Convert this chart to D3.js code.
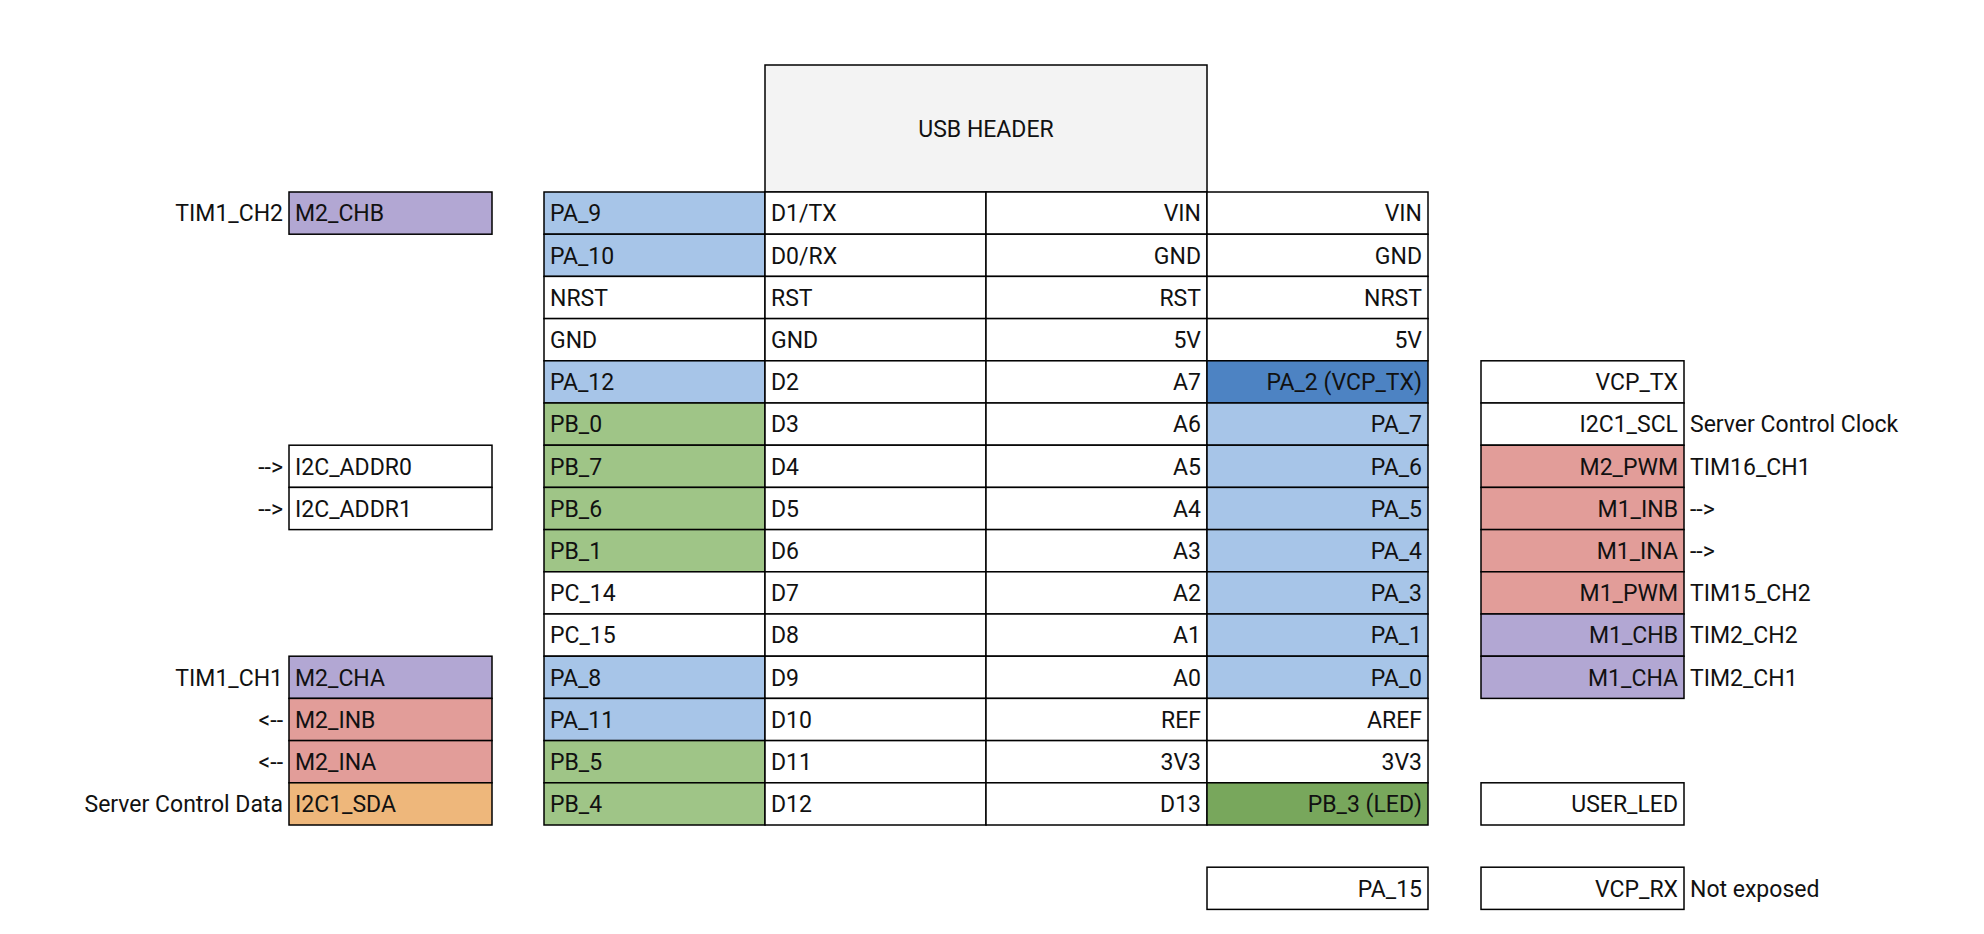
<!DOCTYPE html>
<html><head><meta charset="utf-8">
<script src="https://cdn.jsdelivr.net/npm/d3@7"></script>
<style>body{margin:0;background:#fff}text{font-family:Roboto,"Noto Sans",sans-serif;font-size:23px;fill:#111}</style>
</head><body><svg id="chart"></svg>
<script>
const width = 1984, height = 934

// header column labels (MCU pin / Arduino pin) - left side of board
const leftPins = ['PA_9','PA_10','NRST','GND','PA_12','PB_0','PB_7','PB_6','PB_1','PC_14','PC_15','PA_8','PA_11','PB_5','PB_4']
const leftArd = ['D1/TX','D0/RX','RST','GND','D2','D3','D4','D5','D6','D7','D8','D9','D10','D11','D12']
const rightArd = ['VIN','GND','RST','5V','A7','A6','A5','A4','A3','A2','A1','A0','REF','3V3','D13']
const rightPins = ['VIN','GND','NRST','5V','PA_2 (VCP_TX)','PA_7','PA_6','PA_5','PA_4','PA_3','PA_1','PA_0','AREF','3V3','PB_3 (LED)']
const leftPinColor = ['lb','lb','','','lb','g','g','g','g','','','lb','lb','g','g']
const rightPinColor = ['','','','','db','lb','lb','lb','lb','lb','lb','lb','','','dg']

// extra pin PA_15 below the header
const extraRow = 16, extraPin = 'PA_15'

// left-side functions: [row, name, colour, note]
const leftFuncs = [[0,'M2_CHB','p','TIM1_CH2'],[6,'I2C_ADDR0','','-->'],[7,'I2C_ADDR1','','-->'],
  [11,'M2_CHA','p','TIM1_CH1'],[12,'M2_INB','r','<--'],[13,'M2_INA','r','<--'],[14,'I2C1_SDA','o','Server Control Data']]
// right-side functions
const rightFuncs = [[4,'VCP_TX','',''],[5,'I2C1_SCL','','Server Control Clock'],[6,'M2_PWM','r','TIM16_CH1'],
  [7,'M1_INB','r','-->'],[8,'M1_INA','r','-->'],[9,'M1_PWM','r','TIM15_CH2'],[10,'M1_CHB','p','TIM2_CH2'],
  [11,'M1_CHA','p','TIM2_CH1'],[14,'USER_LED','',''],[16,'VCP_RX','','Not exposed']]

const colors = {'':'#ffffff', lb:'#a7c5e8', g:'#9fc587', db:'#4d83c3', dg:'#78a75c', p:'#b2a7d3', r:'#e29d99', o:'#eeb77b', usb:'#f3f3f3'}

const svg = d3.select('#chart').attr('width', width).attr('height', height)

const y = d3.scaleLinear().domain([0, 17]).range([192, 192 + 42.2*17])
const rowH = y(1) - y(0)
const col = d3.scaleLinear().domain([0, 4]).range([544, 1428])
const colW = col(1) - col(0)
const leftBox = {x: 289, w: 203}, rightBox = {x: 1481, w: 203}

let cell = (x, r, w, text, fill, align) => {
  svg.append('rect').attr('x', x).attr('y', y(r)).attr('width', w).attr('height', rowH)
     .attr('fill', colors[fill]).attr('stroke', '#000').attr('stroke-width', 1.5)
  svg.append('text').attr('x', align === 'end' ? x + w - 6 : x + 6).attr('y', y(r) + rowH/2)
     .attr('dy', '0.36em').attr('text-anchor', align).text(text)
}

// USB header
svg.append('rect').attr('x', col(1)).attr('y', 65).attr('width', colW*2).attr('height', y(0) - 65)
   .attr('fill', colors.usb).attr('stroke', '#000').attr('stroke-width', 1.5)
svg.append('text').attr('x', col(2)).attr('y', (65 + y(0))/2).attr('dy', '0.36em').attr('text-anchor', 'middle').text('USB HEADER')

leftPins.forEach((t, i) => {
  cell(col(0), i, colW, t, leftPinColor[i], 'start')
  cell(col(1), i, colW, leftArd[i], '', 'start')
  cell(col(2), i, colW, rightArd[i], '', 'end')
  cell(col(3), i, colW, rightPins[i], rightPinColor[i], 'end')
})
cell(col(3), extraRow, colW, extraPin, '', 'end')

leftFuncs.forEach(([r, name, c, note]) => {
  cell(leftBox.x, r, leftBox.w, name, c, 'start')
  svg.append('text').attr('x', leftBox.x - 6).attr('y', y(r) + rowH/2).attr('dy', '0.36em')
     .attr('text-anchor', 'end').text(note)
})
rightFuncs.forEach(([r, name, c, note]) => {
  cell(rightBox.x, r, rightBox.w, name, c, 'end')
  svg.append('text').attr('x', rightBox.x + rightBox.w + 6).attr('y', y(r) + rowH/2).attr('dy', '0.36em')
     .attr('text-anchor', 'start').text(note)
})
</script></body></html>
